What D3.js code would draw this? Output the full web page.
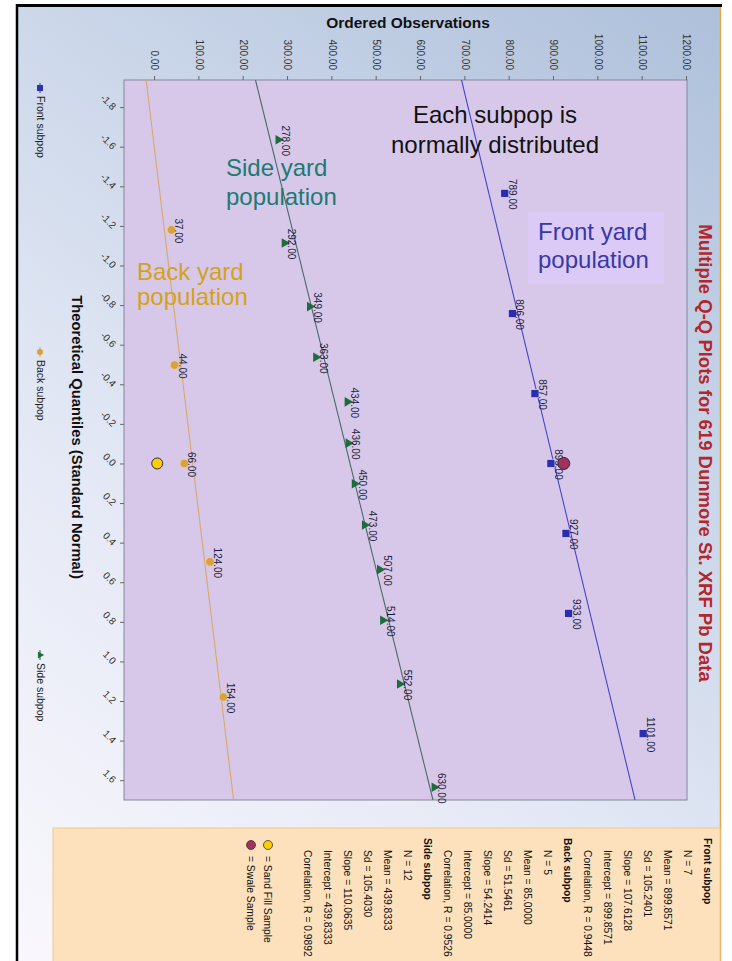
<!DOCTYPE html>
<html><head><meta charset="utf-8">
<script src="https://cdn.jsdelivr.net/npm/d3@7"></script>
<style>body{margin:0;background:#fff}svg{display:block}</style>
</head><body>
<svg id="c" width="732" height="961"></svg>
<script>
// ---------- data ----------
const quantileTicks = [-1.8,-1.6,-1.4,-1.2,-1.0,-0.8,-0.6,-0.4,-0.2,0.0,0.2,0.4,0.6,0.8,1.0,1.2,1.4,1.6];
const valueTicks = [0,100,200,300,400,500,600,700,800,900,1000,1100,1200];

const seriesNames = ["Front subpop","Back subpop","Side subpop"];
const frontQ = [-1.3648,-0.7569,-0.3527,0,0.3527,0.7569,1.3648];
const frontV = [789,806,857,893,927,933,1101];
const backQ  = [-1.1798,-0.4972,0,0.4972,1.1798];
const backV  = [37,44,66,124,154];
const sideQ  = [-1.6354,-1.1137,-0.7923,-0.5362,-0.3111,-0.1025,0.1025,0.3111,0.5362,0.7923,1.1137,1.6354];
const sideV  = [278,292,349,363,434,436,450,473,507,514,552,630];

const fitIntercepts = [899.8571,85.0000,439.8333];
const fitSlopes     = [107.6128,54.2414,110.0635];

const specialNames = ["= Sand Fill Sample","= Swale Sample"];
const specialQ = [0,0];
const specialV = [5,922];

const statsHeaders = ["Front subpop","Back subpop","Side subpop"];
const statsN    = [7,5,12];
const statsMean = ["899.8571","85.0000","439.8333"];
const statsSd   = ["105.2401","51.5461","105.4030"];
const statsSlope= ["107.6128","54.2414","110.0635"];
const statsInt  = ["899.8571","85.0000","439.8333"];
const statsR    = ["0.9448","0.9526","0.9892"];

const annoLines = [["Each subpop is","normally distributed"],["Side yard","population"],["Front yard","population"],["Back yard","population"]];

// ---------- drawing ----------
const svg = d3.select("#c");
const FONT = "'Liberation Sans', Arial, sans-serif";

const defs = svg.append("defs");
const grad = defs.append("linearGradient").attr("id","bg").attr("gradientUnits","userSpaceOnUse")
  .attr("x1",732).attr("y1",0).attr("x2",0).attr("y2",961);
[[0,"#adbfda"],[0.37,"#cdd8ea"],[0.66,"#e6eaf6"],[1,"#faf8fd"]].forEach(s=>grad.append("stop").attr("offset",s[0]).attr("stop-color",s[1]));

svg.append("rect").attr("x",0).attr("y",0).attr("width",732).attr("height",961).attr("fill","#fff");
svg.append("rect").attr("x",18).attr("y",7).attr("width",703).attr("height",954).attr("fill","url(#bg)");
// frame lines
svg.append("line").attr("x1",16).attr("x2",722).attr("y1",5.5).attr("y2",5.5).attr("stroke","#000").attr("stroke-width",3);
svg.append("line").attr("x1",17).attr("x2",17).attr("y1",4).attr("y2",961).attr("stroke","#000").attr("stroke-width",2.5);
svg.append("line").attr("x1",720.5).attr("x2",720.5).attr("y1",7).attr("y2",961).attr("stroke","#e0a848").attr("stroke-width",1.5);

// rotated chart group (original landscape orientation 961 x 732)
const g = svg.append("g").attr("transform","translate(732,0) rotate(90)");

const xS = d3.scaleLinear().domain([-1.937,1.70]).range([80,800]);
const yS = d3.scaleLinear().domain([-70,1200]).range([608,45]);

// stats panel (right side in original)
g.append("rect").attr("x",828).attr("y",12).attr("width",140).attr("height",667)
  .attr("fill","#fce1bc").attr("stroke","#f2c890").attr("stroke-width",1);

// plot area
g.append("rect").attr("x",xS.range()[0]).attr("y",yS.range()[1])
  .attr("width",xS.range()[1]-xS.range()[0]).attr("height",yS.range()[0]-yS.range()[1])
  .attr("fill","#d7c8e9").attr("stroke","#85859a").attr("stroke-width",1);

// y axis (ordered observations)
const yAx = g.append("g").attr("transform",`translate(${xS.range()[0]},0)`)
  .call(d3.axisLeft(yS).tickValues(valueTicks).tickFormat(d3.format(".2f")).tickSize(4).tickPadding(6));
yAx.select(".domain").remove();
yAx.selectAll("line").attr("stroke","#666");
yAx.selectAll("text").attr("font-family",FONT).attr("font-size",10).attr("fill","#333");

// x axis (theoretical quantiles)
const xAx = g.append("g").attr("transform",`translate(0,${yS.range()[0]})`)
  .call(d3.axisBottom(xS).tickValues(quantileTicks).tickFormat(d=>d3.format(".1f")(d).replace("\u2212","-")).tickSize(4));
xAx.select(".domain").remove();
xAx.selectAll("line").attr("stroke","#666");
xAx.selectAll("text").attr("font-family",FONT).attr("font-size",10).attr("fill","#333")
  .attr("text-anchor","end").attr("y",0).attr("dy",0)
  .attr("transform","translate(3,12) rotate(-45)");

// clip
defs.append("clipPath").attr("id","clip").append("rect")
  .attr("x",80).attr("y",45).attr("width",720).attr("height",563);

// fit lines
const lineColors = ["#4646c6","#d8a86a","#4a6a68"];
const plotG = g.append("g").attr("clip-path","url(#clip)");
const qd = xS.domain();
fitIntercepts.forEach((a,i)=>{
  plotG.append("line")
    .attr("x1",xS(qd[0])).attr("y1",yS(a+fitSlopes[i]*qd[0]))
    .attr("x2",xS(qd[1])).attr("y2",yS(a+fitSlopes[i]*qd[1]))
    .attr("stroke",lineColors[i]).attr("stroke-width",1.1);
});

// points
const front = frontQ.map((q,i)=>({q,v:frontV[i]}));
const back  = backQ.map((q,i)=>({q,v:backV[i]}));
const side  = sideQ.map((q,i)=>({q,v:sideV[i]}));

plotG.selectAll(".fp").data(front).join("rect")
  .attr("x",d=>xS(d.q)-4).attr("y",d=>yS(d.v)-4).attr("width",8).attr("height",8)
  .attr("fill","#2c2cb0").attr("stroke","#e8e8ff").attr("stroke-width",0.6);
plotG.selectAll(".bp").data(back).join("circle")
  .attr("cx",d=>xS(d.q)).attr("cy",d=>yS(d.v)).attr("r",4.3)
  .attr("fill","#d8a23e").attr("stroke","#f2d9a0").attr("stroke-width",0.6);
const tri = d3.symbol().type(d3.symbolTriangle).size(40);
plotG.selectAll(".sp").data(side).join("path")
  .attr("d",tri).attr("transform",d=>`translate(${xS(d.q)},${yS(d.v)})`)
  .attr("fill","#1e6b3c");

// value labels
const allPts = front.concat(back, side);
g.selectAll(".vl").data(allPts).join("text")
  .attr("x",d=>xS(d.q)+1).attr("y",d=>yS(d.v)-4)
  .attr("text-anchor","middle").attr("font-family",FONT).attr("font-size",10)
  .attr("fill","#1c1c3c").text(d=>d3.format(".2f")(d.v));

// special samples
const specialFill = ["#ffcc00","#a4305e"];
specialQ.forEach((q,i)=>{
  g.append("circle").attr("cx",xS(q)).attr("cy",yS(specialV[i])).attr("r",i===0?5.5:6)
    .attr("fill",specialFill[i]).attr("stroke","#2a2a2a").attr("stroke-width",1);
});

// titles
g.append("text").attr("x",453).attr("y",33).attr("text-anchor","middle")
  .attr("font-family",FONT).attr("font-weight","bold").attr("font-size",18.5)
  .attr("fill","#b3262b").text("Multiple Q-Q Plots for 619 Dunmore St. XRF Pb Data");
g.append("text").attr("transform","translate(28,324) rotate(-90)").attr("text-anchor","middle")
  .attr("font-family",FONT).attr("font-weight","bold").attr("font-size",15.5)
  .attr("fill","#111").text("Ordered Observations");
g.append("text").attr("x",437).attr("y",660).attr("text-anchor","middle")
  .attr("font-family",FONT).attr("font-weight","bold").attr("font-size",14.8)
  .attr("fill","#111").text("Theoretical Quantiles (Standard Normal)");

// legend
const legX = [88,352,655];
const legCol = ["#3030b0","#d8a23e","#1e6b3c"];
seriesNames.forEach((n,i)=>{
  const lg = g.append("g").attr("transform",`translate(${legX[i]},692)`);
  lg.append("line").attr("x1",-5).attr("x2",5).attr("y1",0).attr("y2",0).attr("stroke",legCol[i]).attr("stroke-width",1);
  if(i===0) lg.append("rect").attr("x",-3).attr("y",-3).attr("width",6).attr("height",6).attr("fill",legCol[i]);
  else if(i===1) lg.append("circle").attr("r",3).attr("fill",legCol[i]);
  else lg.append("path").attr("d",d3.symbol().type(d3.symbolTriangle).size(22)).attr("fill",legCol[i]);
  lg.append("text").attr("x",8).attr("y",3.5).attr("font-family",FONT).attr("font-size",10.5)
    .attr("fill","#222").text(n);
});

// stats text
const statsG = g.append("g").attr("font-family",FONT).attr("font-size",10.3).attr("fill","#111");
let row = 0;
const baseY = 28, step = 20;
statsHeaders.forEach((h,i)=>{
  statsG.append("text").attr("x",838).attr("y",baseY+step*row++).attr("font-weight","bold").text(h);
  const items = [["N = ",statsN[i]],["Mean = ",statsMean[i]],["Sd = ",statsSd[i]],["Slope = ",statsSlope[i]],["Intercept = ",statsInt[i]],["Correlation, R = ",statsR[i]]];
  items.forEach(it=>{
    statsG.append("text").attr("x",850).attr("y",baseY+step*row++).text(it[0]+it[1]);
  });
});
const legY0 = baseY + step*(row-1) + 40;
specialNames.forEach((n,i)=>{
  const yy = legY0 + i*17;
  statsG.append("circle").attr("cx",845).attr("cy",yy-4).attr("r",4.5)
    .attr("fill",specialFill[i]).attr("stroke","#333").attr("stroke-width",0.8);
  statsG.append("text").attr("x",856).attr("y",yy).text(n);
});

// ---------- screen-space annotations ----------
const ann = svg.append("g").attr("font-family",FONT).attr("font-size",24);
ann.append("rect").attr("x",528).attr("y",212).attr("width",136).attr("height",72).attr("fill","#dccaf6");
const annPos = [
  {x:495, y:[123,153], anchor:"middle", color:"#111"},
  {x:226, y:[176,205], anchor:"start", color:"#1d7a72"},
  {x:538, y:[240,268], anchor:"start", color:"#3838a6"},
  {x:137, y:[280,305], anchor:"start", color:"#d4a21a"}
];
annoLines.forEach((ls,i)=>{
  ls.forEach((t,j)=>{
    ann.append("text").attr("x",annPos[i].x).attr("y",annPos[i].y[j])
      .attr("text-anchor",annPos[i].anchor).attr("fill",annPos[i].color).text(t);
  });
});
</script>
</body></html>
